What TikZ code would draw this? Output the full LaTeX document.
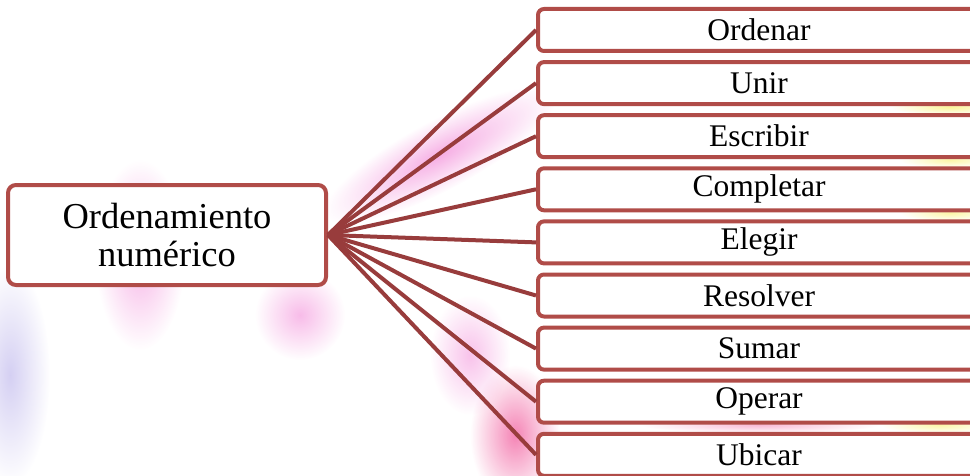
\documentclass[tikz,border=0pt]{standalone}
\usepackage{fontspec}
\setmainfont{Liberation Serif}
\usetikzlibrary{fadings}
\definecolor{boxcol}{RGB}{176,76,72}
\definecolor{linecol}{RGB}{152,60,60}
\definecolor{blobpink}{RGB}{240,120,210}
\definecolor{blobrose}{RGB}{240,80,150}
\definecolor{blobblue}{RGB}{170,160,230}
\definecolor{blobyellow}{RGB}{250,240,110}
\tikzfading[name=softblob, inner color=transparent!0, outer color=transparent!100]
\tikzset{
  mainbox/.style={draw=boxcol, line width=4pt, rounded corners=8pt, fill=white,
    minimum width=318pt, minimum height=100pt, align=center, inner sep=0pt,
    font=\fontsize{36.5}{38}\selectfont},
  itembox/.style={draw=boxcol, line width=4pt, rounded corners=6pt, fill=white,
    minimum width=442pt, minimum height=42pt, inner sep=0pt,
    font=\fontsize{31.5}{34}\selectfont},
  link/.style={draw=linecol, line width=4pt},
  blob/.style={path fading=softblob, fill opacity=#1},
  blob/.default=0.5
}
\begin{document}
\begin{tikzpicture}[x=1pt,y=1pt]
\useasboundingbox (0,0) rectangle (970,475);
\clip (0,0) rectangle (970,475);
% soft background blobs
\fill[blobpink, blob=0.55] (140,220) ellipse (45 and 95);
\fill[blobpink, blob=0.5] (300,160) ellipse (45 and 45);
\begin{scope}[transform canvas={rotate around={28:(440,320)}}]
  \fill[blobpink, blob=0.6] (440,320) ellipse (130 and 35);
\end{scope}
\fill[blobrose, blob=0.7] (515,40) ellipse (45 and 70);
\fill[blobpink, blob=0.45] (470,120) ellipse (40 and 60);
\fill[blobblue, blob=0.5] (10,100) ellipse (40 and 110);
\fill[blobyellow, blob=0.7] (950,368) ellipse (60 and 8);
\fill[blobyellow, blob=0.6] (950,315) ellipse (50 and 8);
\fill[blobyellow, blob=0.6] (950,262) ellipse (50 and 8);
\fill[blobyellow, blob=0.6] (940,50) ellipse (60 and 8);
\fill[blobrose, blob=0.4] (760,50) ellipse (120 and 8);
% main node
\node[mainbox] (M) at (167,240) {Ordenamiento\\numérico};
% item nodes
\node[itembox] (R1) at (759,445.0) {Ordenar};
\node[itembox] (R2) at (759,391.9) {Unir};
\node[itembox] (R3) at (759,338.8) {Escribir};
\node[itembox] (R4) at (759,285.7) {Completar};
\node[itembox] (R5) at (759,232.6) {Elegir};
\node[itembox] (R6) at (759,179.5) {Resolver};
\node[itembox] (R7) at (759,126.4) {Sumar};
\node[itembox] (R8) at (759,73.3) {Operar};
\node[itembox] (R9) at (759,20.2) {Ubicar};
% connectors
\foreach \i in {1,...,9} {
  \draw[link] (M.east) -- (R\i.west);
}
\end{tikzpicture}
\end{document}
